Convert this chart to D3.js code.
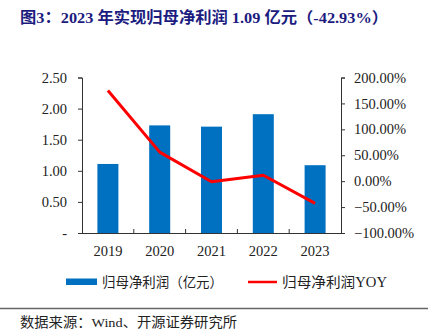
<!DOCTYPE html>
<html><head><meta charset="utf-8">
<script src="https://cdn.jsdelivr.net/npm/d3@7"></script>
<style>
body{margin:0;background:#fff;}
svg{display:block;}
</style></head>
<body>
<svg id="c" width="428" height="335"></svg>
<script>
const years = ["2019","2020","2021","2022","2023"];
const profit = [1.11, 1.73, 1.71, 1.91, 1.09];
const yoy = [1.75, 0.56, -0.01, 0.115, -0.4293];
const leftTicks = [0, 0.5, 1.0, 1.5, 2.0, 2.5];
const rightTicks = [-1, -0.5, 0, 0.5, 1, 1.5, 2];
const titleText = "图3：2023 年实现归母净利润 1.09 亿元（-42.93%）";
const legendBar = "归母净利润（亿元）";
const legendLine = "归母净利润YOY";
const sourceText = "数据来源：Wind、开源证券研究所";

const svg = d3.select("#c");
const serif = "'Times New Roman','Liberation Serif','Noto Serif',serif";
const cjk = "'Liberation Serif','Noto Sans CJK SC',sans-serif";

const x0 = 82, x1 = 341, yTop = 77.5, yBot = 233;
const xb = d3.scaleBand().domain(years).range([x0, x1]);
const yL = d3.scaleLinear().domain([0, 2.5]).range([yBot, yTop]);
const yR = d3.scaleLinear().domain([-1, 2]).range([yBot, yTop]);

// title
svg.append("text").attr("x", 20).attr("y", 23)
  .attr("font-family", "'Liberation Serif','Noto Sans CJK SC',serif")
  .attr("font-weight", "bold").attr("font-size", 15.5).attr("fill", "#1c1c80")
  .attr("textLength", 368).attr("lengthAdjust", "spacingAndGlyphs")
  .text(titleText);

// bars
svg.append("g").selectAll("rect").data(years).join("rect")
  .attr("x", d => xb(d) + xb.bandwidth()/2 - 10.5)
  .attr("width", 21)
  .attr("y", (d,i) => yL(profit[i]))
  .attr("height", (d,i) => yBot - yL(profit[i]))
  .attr("fill", "#0070C0");

// left axis
const gl = svg.append("g").attr("transform", `translate(${x0},0)`)
  .call(d3.axisLeft(yL).tickValues(leftTicks).tickSize(4).tickPadding(11)
    .tickFormat(d => d === 0 ? "-" : d3.format(".2f")(d)));
// right axis
const gr = svg.append("g").attr("transform", `translate(${x1},0)`)
  .call(d3.axisRight(yR).tickValues(rightTicks).tickSize(4).tickPadding(9)
    .tickFormat(d => d3.format(".2f")(d*100) + "%"));
// bottom axis
const gb = svg.append("g").attr("transform", `translate(0,${yBot})`)
  .call(d3.axisBottom(xb).tickSize(0).tickPadding(13));
// bottom category ticks (upward)
svg.append("g").selectAll("line").data(years.slice(1)).join("line")
  .attr("x1", d => xb(d)).attr("x2", d => xb(d))
  .attr("y1", yBot).attr("y2", yBot - 4)
  .attr("stroke", "#333");

[gl, gr, gb].forEach(g => {
  g.selectAll("path.domain").attr("stroke", "#333").attr("stroke-width", 1);
  g.selectAll(".tick line").attr("stroke", "#333");
  g.selectAll("text").attr("font-family", serif).attr("font-size", 14.5).attr("fill", "#222");
});
gb.select("path.domain").attr("d", `M${x0},0.5H${x1}`);

// line
const line = d3.line().x((d,i) => xb(years[i]) + xb.bandwidth()/2).y(d => yR(d));
svg.append("path").datum(yoy).attr("d", line)
  .attr("fill", "none").attr("stroke", "#FF0000").attr("stroke-width", 3)
  .attr("stroke-linejoin", "round");

// legend
svg.append("rect").attr("x", 66).attr("y", 278.5).attr("width", 31).attr("height", 6.5).attr("fill", "#0070C0");
svg.append("text").attr("x", 102).attr("y", 287).attr("font-family", cjk).attr("font-size", 14)
  .attr("fill", "#222").attr("textLength", 121).attr("lengthAdjust", "spacingAndGlyphs").text(legendBar);
svg.append("line").attr("x1", 248).attr("x2", 277).attr("y1", 282).attr("y2", 282)
  .attr("stroke", "#FF0000").attr("stroke-width", 2.5);
svg.append("text").attr("x", 282).attr("y", 287).attr("font-family", cjk).attr("font-size", 14)
  .attr("fill", "#222").attr("textLength", 105).attr("lengthAdjust", "spacingAndGlyphs").text(legendLine);

// source
svg.append("line").attr("x1", 0).attr("x2", 428).attr("y1", 308.5).attr("y2", 308.5)
  .attr("stroke", "#666").attr("stroke-width", 1.5);
svg.append("text").attr("x", 20).attr("y", 327).attr("font-family", cjk).attr("font-size", 13.5)
  .attr("fill", "#222").attr("textLength", 217).attr("lengthAdjust", "spacingAndGlyphs").text(sourceText);
</script>
</body></html>
